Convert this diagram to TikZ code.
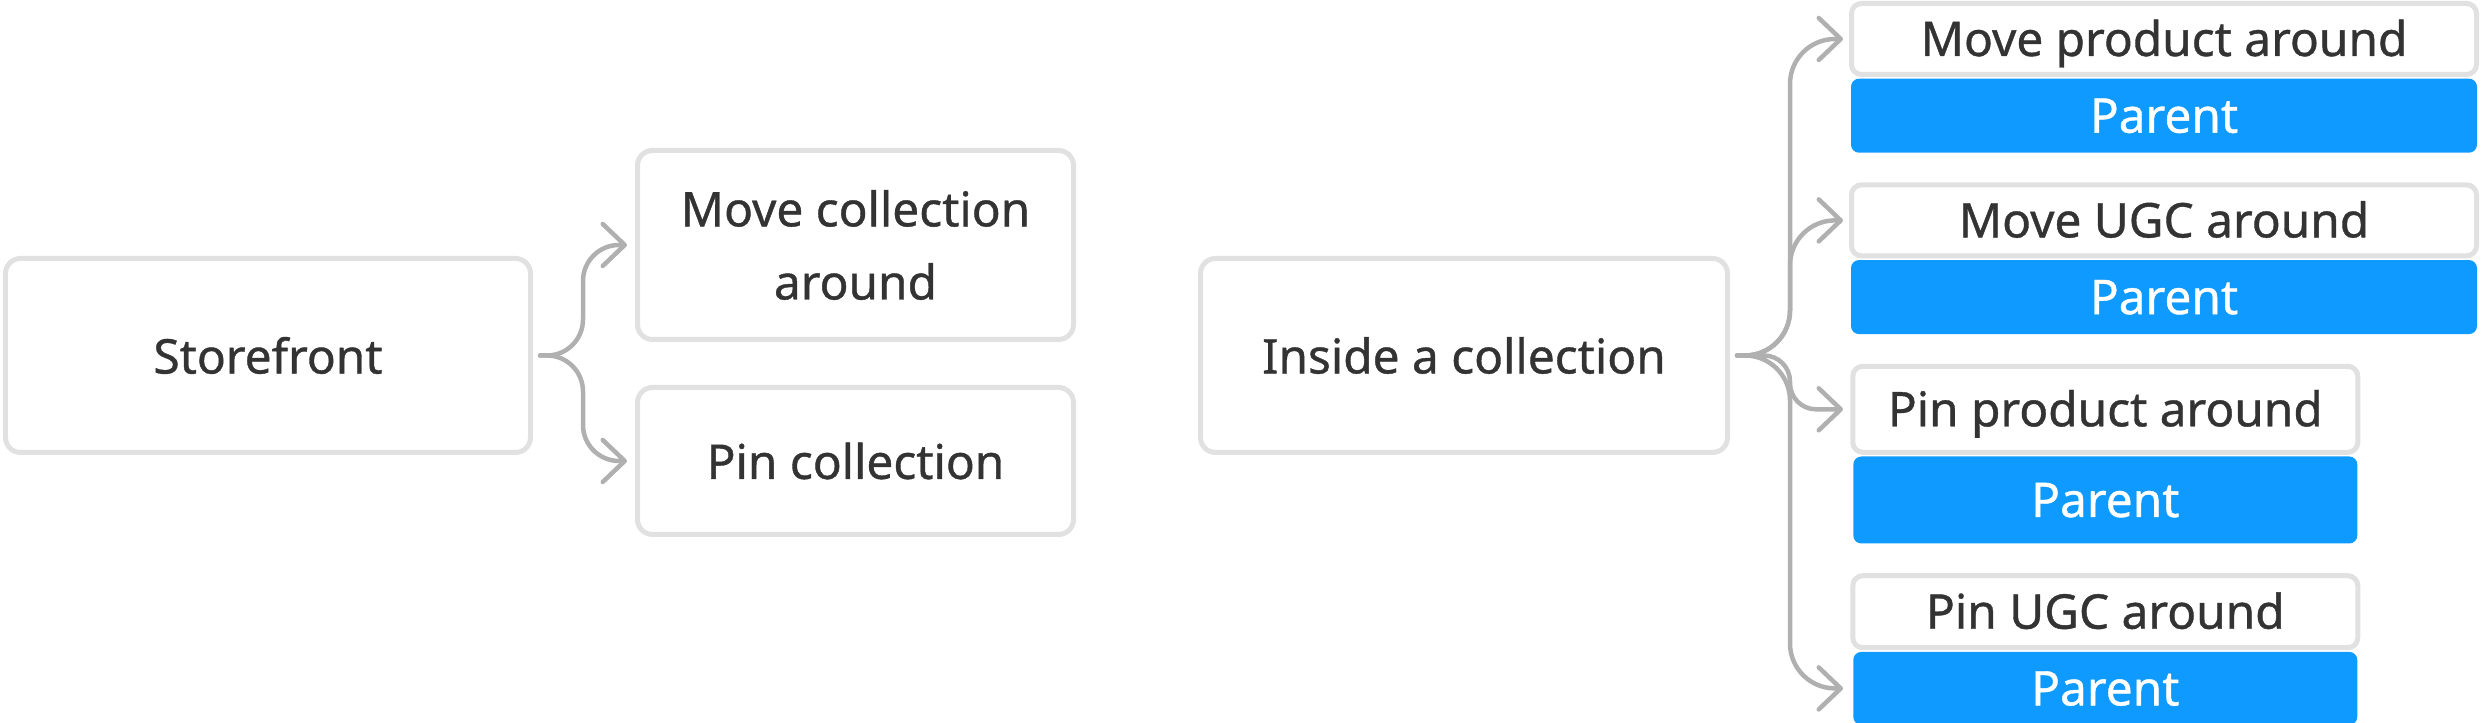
\documentclass[tikz,border=0pt]{standalone}
\usepackage{fontspec}
\setmainfont{Noto Sans}[FakeBold=0.8]
\usepackage{xcolor}
\usepackage{tikz}
\usetikzlibrary{arrows.meta, positioning}

\definecolor{boxline}{HTML}{E1E1E1}
\definecolor{linkgray}{HTML}{B0B0B0}
\definecolor{parentblue}{HTML}{0F9AFF}
\definecolor{textgray}{HTML}{333333}

\begin{document}
\begin{tikzpicture}[
    node distance=0.29cm,
    block/.style={rectangle, draw=boxline, line width=0.05cm, fill=white, rounded corners=0.15cm, text=textgray, align=center, font=\fontsize{13.6}{20.8}\selectfont},
    item/.style={rectangle, draw=boxline, line width=0.05cm, fill=white, rounded corners=0.1cm, text=textgray, minimum width=6.25cm, minimum height=0.71cm, text height=0.34cm, text depth=0cm, font=\fontsize{13.6}{16}\selectfont},
    parent/.style={rectangle, fill=parentblue, rounded corners=0.08cm, text=white, minimum width=6.26cm, minimum height=0.74cm, text height=0.34cm, text depth=0cm, font=\fontsize{13.6}{16}\selectfont},
    arrow/.style={line width=0.045cm, draw=linkgray, line cap=round, rounded corners=0.45cm, -{Straight Barb[length=0.22cm, width=0.42cm, round]}}
]
\useasboundingbox (0,0) rectangle (24.81,-7.23);

% Nodes
\node [block, minimum width=5.25cm, minimum height=1.94cm] (store) at (2.68,-3.555) {Storefront};
\node [block, minimum width=4.36cm, minimum height=1.89cm] (movecol) at (8.555,-2.45) {Move collection\\around};
\node [block, minimum width=4.36cm, minimum height=1.47cm] (pincol) at (8.555,-4.61) {Pin collection};
\node [block, minimum width=5.27cm, minimum height=1.94cm] (inside) at (14.64,-3.555) {Inside a collection};

\node [item] (moveprod) at (21.64,-0.39) {Move product around};
\node [parent, below=0.01cm of moveprod] (moveprodparent) {Parent};
\node [item, below=of moveprodparent] (moveugc) {Move UGC around};
\node [parent, below=0.01cm of moveugc] (moveugcparent) {Parent};
\node [item, minimum width=5.05cm, minimum height=0.86cm, below=of moveugcparent.south west, anchor=north west] (pinprod) {Pin product around};
\node [parent, minimum width=5.04cm, minimum height=0.87cm, below=0.01cm of pinprod] (pinprodparent) {Parent};
\node [item, minimum width=5.05cm, minimum height=0.72cm, below=of pinprodparent] (pinugc) {Pin UGC around};
\node [parent, minimum width=5.04cm, minimum height=0.73cm, below=0.01cm of pinugc] (pinugcparent) {Parent};

% Arrows
\draw [arrow, rounded corners=0.36cm] ([xshift=0.07cm]store.east) -| ([xshift=-0.52cm]movecol.west) -- ([xshift=-0.08cm]movecol.west);
\draw [arrow, rounded corners=0.36cm] ([xshift=0.07cm]store.east) -| ([xshift=-0.52cm]pincol.west) -- ([xshift=-0.08cm]pincol.west);

\coordinate (rstart) at ([xshift=0.07cm]inside.east);
\coordinate (rtrunk) at ([xshift=0.60cm]inside.east);
\coordinate (rtip) at ([xshift=1.13cm]inside.east);
\draw [arrow] (rstart) -| (rtrunk |- moveprod) -- (rtip |- moveprod);
\draw [arrow] (rstart) -| (rtrunk |- moveugc) -- (rtip |- moveugc);
\draw [arrow, rounded corners=0.26cm] (rstart) -| (rtrunk |- pinprod) -- (rtip |- pinprod);
\draw [arrow] (rstart) -| (rtrunk |- pinugcparent) -- (rtip |- pinugcparent);

\end{tikzpicture}
\end{document}
